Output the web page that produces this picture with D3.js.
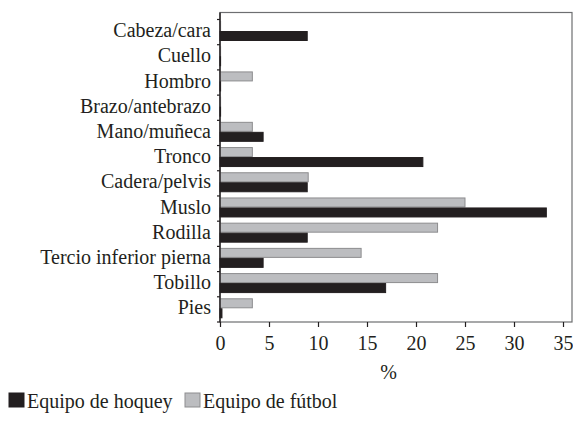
<!DOCTYPE html>
<html><head><meta charset="utf-8">
<script src="https://cdn.jsdelivr.net/npm/d3@7"></script>
<style>body{margin:0;background:#fff}svg{display:block}</style>
</head><body>
<svg id="c" width="573" height="424"></svg>
<script>
const categories = ["Cabeza/cara","Cuello","Hombro","Brazo/antebrazo","Mano/muñeca","Tronco","Cadera/pelvis","Muslo","Rodilla","Tercio inferior pierna","Tobillo","Pies"];
const hockey = [8.9, 0, 0, 0, 4.4, 20.7, 8.9, 33.3, 8.9, 4.4, 16.9, 0.2];
const futbol = [0, 0, 3.3, 0, 3.3, 3.3, 9.0, 25.0, 22.2, 14.4, 22.2, 3.3];
const seriesNames = ["Equipo de hoquey", "Equipo de fútbol"];
const xTicks = [0,5,10,15,20,25,30,35];

const FONT = "'Liberation Serif'";
const INK = "#231f20";
const svg = d3.select("#c");
const L = 220, R = 572, T = 12.5, B = 322, bandTop = 19.5;
const x = d3.scaleLinear().domain([0,35]).range([L, 563]);
const y = d3.scaleBand().domain(categories).range([bandTop, B]).paddingInner(0).paddingOuter(0);
const sub = d3.scaleBand().domain(["futbol","hockey"]).range([2, 21]).paddingInner(0.1);
const colors = {hockey:INK, futbol:"#bcbdc0"};
const strokes = {hockey:INK, futbol:"#8d8d8f"};

// frame
svg.append("rect").attr("x", L).attr("y", T).attr("width", R - L).attr("height", B - T)
  .attr("fill","none").attr("stroke","#6d6e71").attr("stroke-width",1.2);

// bars
const rows = categories.map((c,i)=>({c, hockey:hockey[i], futbol:futbol[i]}));
["futbol","hockey"].forEach(k=>{
  svg.append("g").selectAll("rect").data(rows).join("rect")
    .attr("x", x(0))
    .attr("y", d => y(d.c) + sub(k))
    .attr("width", d => Math.max(0.6, x(d[k]) - x(0)))
    .attr("height", sub.bandwidth())
    .attr("fill", colors[k])
    .attr("stroke", strokes[k])
    .attr("stroke-width", 1);
});

// y axis (ticks at band boundaries)
const yEdges = categories.map(c => y(c)).concat([B]);
svg.append("g").selectAll("line").data(yEdges).join("line")
  .attr("x1", L - 3).attr("x2", L).attr("y1", d=>d).attr("y2", d=>d)
  .attr("stroke",INK).attr("stroke-width",1.2);
svg.append("line").attr("x1",L).attr("x2",L).attr("y1",T).attr("y2",B).attr("stroke",INK).attr("stroke-width",1.4);
svg.append("g").selectAll("text").data(categories).join("text")
  .attr("x", L - 9).attr("y", d => y(d) + y.bandwidth()/2 + 5)
  .attr("text-anchor","end").attr("font-family", FONT).attr("font-size","20px").attr("fill",INK).text(d=>d);

// x axis
const xa = svg.append("g").attr("transform",`translate(0,${B})`)
  .call(d3.axisBottom(x).tickValues(xTicks).tickSize(5).tickPadding(9).tickFormat(d3.format("d")));
xa.attr("font-family", FONT);
xa.select(".domain").remove();
xa.selectAll("line").attr("stroke",INK).attr("stroke-width",1.2);
xa.selectAll("text").attr("font-size","20px").attr("font-family", FONT).attr("fill",INK);
svg.append("text").attr("x", (L+563)/2 - 3).attr("y", 379).attr("text-anchor","middle").attr("font-family", FONT).attr("font-size","20px").attr("fill",INK).text("%");

// legend
const lg = svg.append("g");
const legendItems = [{k:"hockey", name:seriesNames[0], x:9}, {k:"futbol", name:seriesNames[1], x:185}];
legendItems.forEach(it=>{
  lg.append("rect").attr("x", it.x).attr("y", 393).attr("width", 15).attr("height", 14)
    .attr("fill", colors[it.k]).attr("stroke", strokes[it.k]).attr("stroke-width",1);
  lg.append("text").attr("x", it.x + 18).attr("y", 407.5).attr("font-family", FONT).attr("font-size","20px").attr("fill",INK).text(it.name);
});
</script>
</body></html>
